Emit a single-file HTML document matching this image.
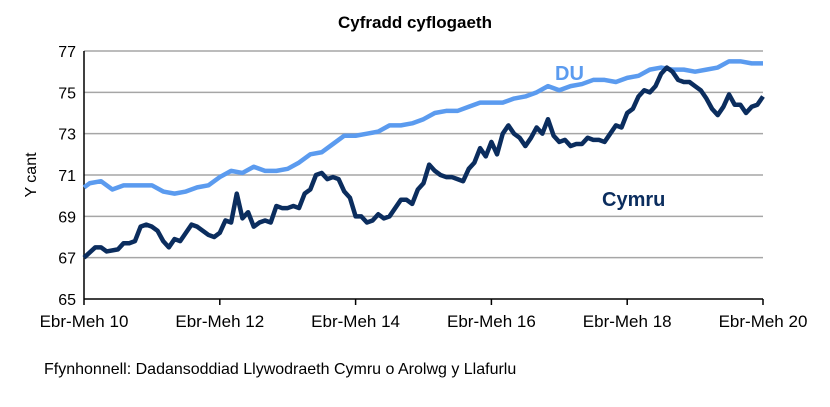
<!DOCTYPE html>
<html><head><meta charset="utf-8"><style>
body{margin:0;background:#fff;width:830px;height:402px;overflow:hidden;font-family:"Liberation Sans",Arial,sans-serif}
</style></head><body>
<svg id="c" width="830" height="402" xmlns="http://www.w3.org/2000/svg"></svg>
<script>
const yTicks=[65,67,69,71,73,75,77];
const xLabels=["Ebr-Meh 10","Ebr-Meh 12","Ebr-Meh 14","Ebr-Meh 16","Ebr-Meh 18","Ebr-Meh 20"];
const cymruMonths=[0,2,3,4,6,7,8,9,10,11,12,13,14,15,16,17,18,19,20,21,22,23,24,25,26,27,28,29,30,31,32,33,34,35,36,37,38,39,40,41,42,43,44,45,46,47,48,49,50,51,52,53,54,55,56,57,58,59,60,61,62,63,64,65,66,67,68,69,70,71,72,73,74,75,76,77,78,79,80,81,82,83,84,85,86,87,88,89,90,91,92,93,94,95,96,97,98,99,100,101,102,103,104,105,106,107,108,109,110,111,112,113,114,115,116,117,118,119,120];
const cymruValues=[67.0,67.5,67.5,67.3,67.4,67.7,67.7,67.8,68.5,68.6,68.5,68.3,67.8,67.5,67.9,67.8,68.2,68.6,68.5,68.3,68.1,68.0,68.2,68.8,68.7,70.1,68.9,69.2,68.5,68.7,68.8,68.7,69.5,69.4,69.4,69.5,69.4,70.1,70.3,71.0,71.1,70.8,70.9,70.8,70.2,69.9,69.0,69.0,68.7,68.8,69.1,68.9,69.0,69.4,69.8,69.8,69.6,70.3,70.6,71.5,71.2,71.0,70.9,70.9,70.8,70.7,71.3,71.6,72.3,71.9,72.6,72.0,73.0,73.4,73.0,72.8,72.4,72.8,73.3,73.0,73.7,72.9,72.6,72.7,72.4,72.5,72.5,72.8,72.7,72.7,72.6,73.0,73.4,73.3,74.0,74.2,74.8,75.1,75.0,75.3,75.9,76.2,76.0,75.6,75.5,75.5,75.3,75.1,74.7,74.2,73.9,74.3,74.9,74.4,74.4,74.0,74.3,74.4,74.8,75.3];
const duMonths=[0,1,3,5,7,9,12,14,16,18,20,22,24,26,28,30,32,34,36,38,40,42,44,46,48,50,52,54,56,58,60,62,64,66,68,70,72,74,76,78,80,82,84,86,88,90,92,94,96,98,100,102,104,106,108,110,112,114,116,118,120];
const duValues=[70.4,70.6,70.7,70.3,70.5,70.5,70.5,70.2,70.1,70.2,70.4,70.5,70.9,71.2,71.1,71.4,71.2,71.2,71.3,71.6,72.0,72.1,72.5,72.9,72.9,73.0,73.1,73.4,73.4,73.5,73.7,74.0,74.1,74.1,74.3,74.5,74.5,74.5,74.7,74.8,75.0,75.3,75.1,75.3,75.4,75.6,75.6,75.5,75.7,75.8,76.1,76.2,76.1,76.1,76.0,76.1,76.2,76.5,76.5,76.4,76.4];
const svg=document.getElementById('c');const NS='http://www.w3.org/2000/svg';
const X0=84,X1=763,Y0=299,Y1=51;
const xs=m=>X0+(X1-X0)*m/120, ys=v=>Y0-(Y0-Y1)*(v-65)/12;
function mk(t,a,txt){const e=document.createElementNS(NS,t);for(const k in a)e.setAttribute(k,a[k]);if(txt!=null)e.textContent=txt;svg.appendChild(e);return e;}
let e=mk('text',{x:415,y:28,'text-anchor':'middle','font-size':17,'font-weight':'bold',fill:'#000'},'Cyfradd cyflogaeth');


yTicks.forEach(v=>{
 if(v>65){const g=mk('line',{x1:X0,x2:X1,y1:ys(v),y2:ys(v),stroke:'#a6a6a6','stroke-width':1.5});
 
 }
 const t=mk('text',{x:X0-8,y:ys(v)+6,'text-anchor':'end','font-size':16,fill:'#000'},v);
 
 
});
let ax=mk('line',{x1:X0,x2:X1,y1:Y0,y2:Y0,stroke:'#000','stroke-width':1.5});


ax=mk('line',{x1:X0,x2:X0,y1:Y1,y2:Y0,stroke:'#000','stroke-width':1.5});


xLabels.forEach((l,i)=>{const x=xs(i*24);
 const tk=mk('line',{x1:x,x2:x,y1:Y0,y2:Y0+6,stroke:'#000','stroke-width':1.5});
 
 
 const t=mk('text',{x:x,y:Y0+28,'text-anchor':'middle','font-size':17,fill:'#000'},l);
 
 
});
e=mk('text',{x:0,y:0,transform:'translate(36,175) rotate(-90)','text-anchor':'middle','font-size':16,fill:'#000'},'Y cant');


function line(ms,vs,col,name){const p=mk('polyline',{points:ms.map((m,i)=>xs(m)+','+ys(vs[i])).join(' '),fill:'none',stroke:col,'stroke-width':4.5,'stroke-linejoin':'round'});
 
 }
line(duMonths,duValues,'#5b9bef','du-line');
line(cymruMonths,cymruValues,'#0b2d5e','cymru-line');
e=mk('text',{x:555,y:80,'font-size':20,'font-weight':'bold',fill:'#5b9bef'},'DU');


e=mk('text',{x:602,y:206,'font-size':20,'font-weight':'bold',fill:'#0b2d5e'},'Cymru');


e=mk('text',{x:44,y:374,'font-size':16,fill:'#000'},'Ffynhonnell: Dadansoddiad Llywodraeth Cymru o Arolwg y Llafurlu');


</script>
</body></html>
